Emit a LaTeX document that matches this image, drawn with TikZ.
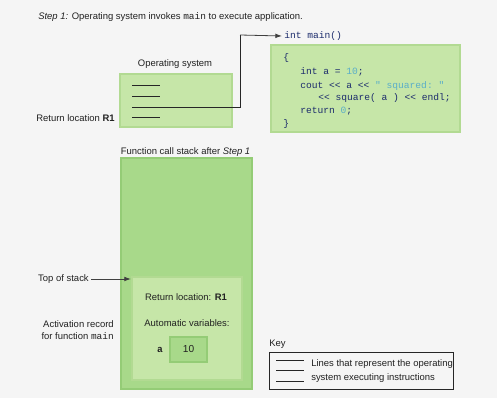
\documentclass[tikz,border=0pt]{standalone}
\usepackage{fontspec}
\setmainfont{Liberation Sans}
\setmonofont{Liberation Mono}
\usetikzlibrary{arrows.meta}
\definecolor{bgc}{HTML}{F5F5F5}
\definecolor{lightg}{HTML}{C6E6A8}
\definecolor{lightgb}{HTML}{B2DA92}
\definecolor{midg}{HTML}{A8D98A}
\definecolor{midgb}{HTML}{94CC76}
\definecolor{codec}{HTML}{1C2C6C}
\definecolor{litc}{HTML}{5AAEC8}
\definecolor{txt}{HTML}{222222}
\tikzset{
  lbl/.style={font=\fontsize{7.1}{8.5}\selectfont, text=txt, inner sep=0pt},
  code/.style={font=\ttfamily\fontsize{7.2}{8.6}\selectfont, text=codec, inner sep=0pt, anchor=west},
  lightbox/.style={draw=lightgb, line width=1.6pt, fill=lightg, inner sep=0pt},
  midbox/.style={draw=midgb, line width=1.6pt, fill=midg, inner sep=0pt},
  instr/.style={draw=black!85, line width=0.6pt},
  conn/.style={draw=black!75, line width=0.6pt, -{Latex[length=5pt,width=3.5pt]}},
}
\begin{document}
\begin{tikzpicture}[x=0.75pt,y=-0.75pt]
\useasboundingbox (0,0) rectangle (500,402);
\fill[white] (0,0) rectangle (500,402);
\fill[bgc] (0,0) rectangle (497,398);

% title
\node[lbl, anchor=west] (title) at (38,17) {\textit{Step 1:} Operating system invokes \texttt{main} to execute application.};

% operating system
\node[lbl] (oslabel) at (175,64) {Operating system};
\node[lightbox, minimum width=84pt, minimum height=39.75pt] (os) at (176,100.5) {};
\coordinate (l1a) at (132,85);  \coordinate (l1b) at (160,85);
\coordinate (l2a) at (132,96);  \coordinate (l2b) at (160,96);
\coordinate (l3a) at (132,107); \coordinate (l3b) at (240,107);
\coordinate (l4a) at (132,117); \coordinate (l4b) at (160,117);
\draw[instr] (l1a) -- (l1b);
\draw[instr] (l2a) -- (l2b);
\draw[instr] (l4a) -- (l4b);
\node[lbl, anchor=east] (ret) at (115,118) {Return location \textbf{R1}};

% code
\node[code] (main) at (284,36) {int main()};
\node[lightbox, minimum width=141.75pt, minimum height=65.25pt] (codebox) at (365.5,88.5) {};
\node[code] (c1) at (283,58) {\{};
\node[code] (c2) at (300,72) {int a = \textcolor{litc}{10};};
\node[code] (c3) at (300,86) {cout << a << \textcolor{litc}{" squared: "}};
\node[code] (c4) at (318,98) {<< square( a ) << endl;};
\node[code] (c5) at (300,111) {return \textcolor{litc}{0};};
\node[code] (c6) at (283,124) {\}};

\coordinate (bend1) at (240,35);
\draw[instr] (l3a) -- (l3b) -- (bend1);
\draw[conn] (bend1) -- ([xshift=-1.5pt]main.west);

% stack
\node[lbl] (stacklabel) at (185.5,152) {Function call stack after \textit{Step 1}};
\node[midbox, minimum width=98.25pt, minimum height=173.25pt] (stack) at (186.5,273.5) {};
\node[lightbox, minimum width=82.5pt, minimum height=77.25pt] (ar) at (187,328.5) {};
\node[lbl] (retloc) at (186,297) {Return location: \textbf{R1}};
\node[lbl] (autov) at (187,323) {Automatic variables:};
\node[lbl, font=\ttfamily\bfseries\fontsize{7.2}{8.6}\selectfont] (va) at (160,350) {a};
\node[midbox, minimum width=27.75pt, minimum height=18.75pt, lbl, font=\fontsize{7.6}{9}\selectfont] (vbox) at (188.5,349.5) {10};

\node[lbl, anchor=east] (tos) at (89,279) {Top of stack};
\draw[conn] (tos.east) ++(2,0) -- (tos.east -| ar.west);
\node[lbl, anchor=east, align=right] (arlabel) at (114,330) {Activation record\\for function \texttt{main}};

% key
\node[lbl, anchor=west] (keylabel) at (269,344) {Key};
\node[draw=black!85, line width=0.6pt, fill=bgc, minimum width=138pt, minimum height=27.75pt, inner sep=0pt] (keybox) at (361,370.5) {};
\coordinate (k1a) at (276,360); \coordinate (k1b) at (304,360);
\coordinate (k2a) at (276,370); \coordinate (k2b) at (304,370);
\coordinate (k3a) at (276,381); \coordinate (k3b) at (304,381);
\draw[instr] (k1a) -- (k1b);
\draw[instr] (k2a) -- (k2b);
\draw[instr] (k3a) -- (k3b);
\node[lbl, anchor=west] (keyt1) at (311,364) {Lines that represent the operating};
\node[lbl, anchor=west] (keyt2) at (311,378) {system executing instructions};
\end{tikzpicture}
\end{document}
